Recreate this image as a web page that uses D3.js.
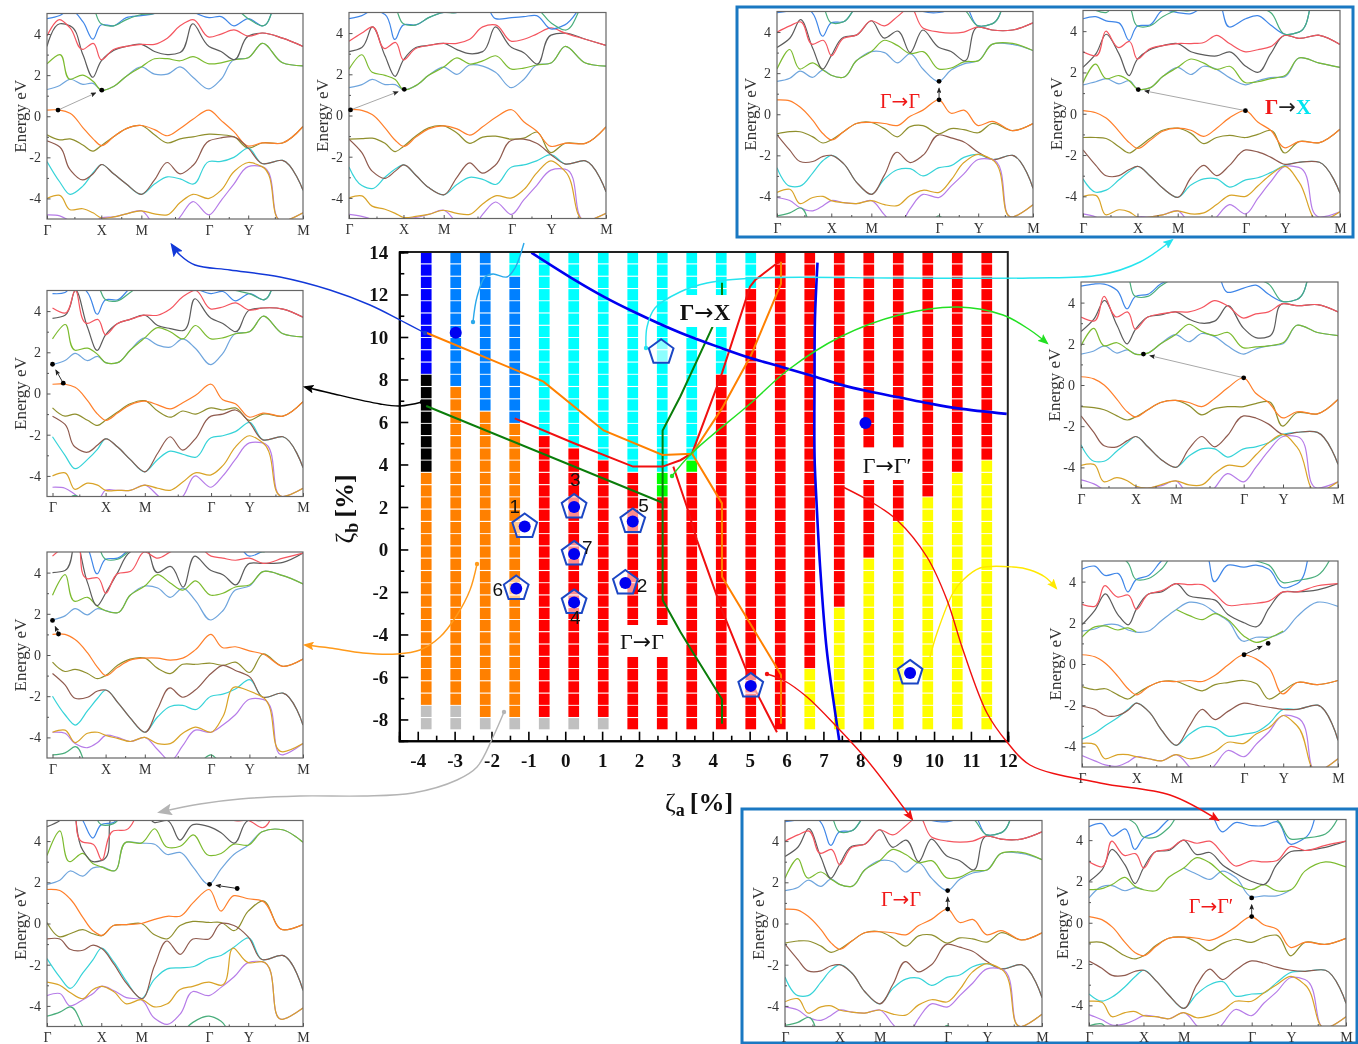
<!DOCTYPE html>
<html>
<head>
<meta charset="utf-8">
<script src="https://cdn.jsdelivr.net/npm/d3@7"></script>
<style>
  html, body { margin: 0; background: #fff; }
  svg { display: block; filter: blur(0.35px); }
  text { font-family: "Liberation Serif", serif; }
</style>
</head>
<body>
<div id="chart"></div>
<script>
// ---- strain map data ----
const zetaA = [-3.77,-2.97,-2.17,-1.37,-0.57,0.23,1.03,1.83,2.63,3.43,4.23,5.03,5.83,6.63,7.43,8.23,9.03,9.83,10.63,11.43];
const zetaB = [-8.2,-7.62,-7.05,-6.47,-5.89,-5.32,-4.74,-4.16,-3.58,-3.01,-2.43,-1.85,-1.28,-0.7,-0.12,0.46,1.03,1.61,2.19,2.76,3.34,3.92,4.49,5.07,5.65,6.22,6.8,7.38,7.96,8.53,9.11,9.69,10.26,10.84,11.42,11.99,12.57,13.15,13.73];
// run lengths from the bottom row up, one list per column
const columnRuns = [
  [["gray",2],["orange",19],["black",8],["blue",10]],
  [["gray",2],["orange",26],["azure",11]],
  [["gray",1],["orange",25],["azure",13]],
  [["gray",1],["orange",24],["azure",12],["cyan",2]],
  [["gray",1],["red",23],["cyan",15]],
  [["gray",1],["red",22],["cyan",16]],
  [["gray",1],["red",21],["cyan",17]],
  [["red",21],["cyan",18]],
  [["red",19],["lime",2],["cyan",18]],
  [["red",21],["lime",1],["cyan",17]],
  [["red",29],["cyan",10]],
  [["red",36],["cyan",3]],
  [["red",39]],
  [["yellow",5],["red",34]],
  [["yellow",10],["red",29]],
  [["yellow",14],["red",25]],
  [["yellow",17],["red",22]],
  [["yellow",19],["red",20]],
  [["yellow",21],["red",18]],
  [["yellow",22],["red",17]]
];
const phaseColors = {gray:"#c0c0c0", orange:"#ff8000", black:"#000000", blue:"#0000ff", azure:"#0080ff", cyan:"#00ffff", red:"#ff0000", lime:"#00ff00", yellow:"#ffff00"};

const orangeUp = [[-3.77,10.2],[-0.59,7.9],[1.04,5.6],[2.64,4.45],[3.44,4.5],[4.25,6.64],[5.04,9.15],[5.85,12.5],[5.85,13.54]];
const orangeDown = [[3.44,4.5],[4.25,2.17],[4.25,-1.28],[5.85,-5.9],[5.85,-8.2]];
const redUp = [[-1.37,6.17],[0.24,5],[1.84,3.9],[2.64,3.9],[3.12,4.2],[3.44,4.53],[4.25,8.3],[5.01,12.37],[5.15,12.68],[5.74,13.47],[5.85,13.54]];
const redDown = [[2.93,3.9],[3.3,2],[3.57,0.44],[4.25,-2.85],[5.03,-6.2],[5.74,-8.6]];
const greenLeft = [[-3.77,6.75],[2.64,2.2]];
const greenUp = [[2.64,-2.38],[2.64,5.6],[3.12,7.2],[3.99,10.46],[4.25,11.97],[4.25,12.55]];
const greenDown = [[2.64,-2.38],[3.12,-3.87],[3.48,-4.9],[4.25,-7.05],[4.25,-8.2]];
const blueCross = [[-0.92,13.97],[0.24,12.7],[1.04,11.9],[1.84,11.2],[3.12,10.2],[4.25,9.47],[5.04,9],[5.85,8.6],[6.78,8.13],[7.44,7.77],[8.25,7.43],[9.05,7.16],[9.85,6.88],[10.65,6.64],[11.97,6.38]];
const blueDown = [[6.84,13.5],[6.77,10.8],[6.76,8.1],[6.76,4.37],[6.82,2],[6.91,-0.8],[7.09,-4.73],[7.36,-8.17],[7.43,-9]];

const pentagons = [[-1.1,1.08],[0.24,2],[1.83,1.32],[0.24,-0.21],[1.63,-1.58],[-1.33,-1.84],[0.24,-2.49],[2.6,9.28],[5.03,-6.42],[9.35,-5.81]];
const filledDots = [[-1.1,1.08],[0.24,2],[1.83,1.32],[0.24,-0.21],[1.63,-1.58],[-1.33,-1.84],[0.24,-2.49],[5.03,-6.42],[9.35,-5.81],[-2.97,10.2],[8.14,5.95]];
const pointNames = ["1","3","5","7","2","6","4"];
const pointNamePos = [[-1.37,1.7],[0.27,3],[2.12,1.75],[0.6,-0.2],[2.08,-2.0],[-1.83,-2.2],[0.27,-3.5]];

// ---- band structure data, energies on the common k grid ----
const kGrid = [0,.05,.09,.14,.18,.212,.26,.31,.3685,.42,.47,.52,.57,.633,.68,.73,.786,.84,.92,1];
const kSym = [0,.212,.3685,.633,.786,1];
const kSymNames = ["Γ","X","M","Γ","Y","M"];
const kMinor = [.107,.29,.5,.71,.89];
const energyTicks = [-4,-2,0,2,4];
const energyMinor = [-3,-1,1,3];
const bandColors = ["#8f8f2d","#ff7f2a","#36d3d8","#8f5a4e","#b67ce8","#d9a327","#6fa5dd","#7cbb2f","#5c5c5c","#f4555f","#3f86e8","#4aae7c","#4aae7c"];

const bandsA = [
[-.9,-1.15,-1.1,-1.4,-1.7,-1.43,-1,-.6,-.45,-.9,-1.3,-1.1,-1,-.87,-.9,-1,-1.55,-1.3,-1.3,-.5],
[.3,.3,.15,-.55,-1.1,-1.43,-1,-.6,-.45,-.65,-.95,-.6,-.15,.3,-.2,-.75,-1.45,-1.3,-1.3,-.5],
[-2.2,-3.2,-3.8,-3.4,-2.75,-2.35,-2.8,-3.3,-3.8,-3.3,-2.95,-3.05,-3.3,-2.2,-2.2,-2,-1.55,-2.3,-2.15,-3.6],
[-1.2,-1.5,-2.6,-3.1,-2.8,-2.35,-2.8,-3.3,-3.8,-3.1,-2.25,-2.8,-2.4,-1.2,-1.05,-1,-1.55,-2.3,-2.15,-3.6],
[-4.8,-4.85,-5.1,-5.4,-5.2,-4.95,-4.9,-4.75,-4.6,-5.3,-5.6,-4.9,-4.15,-4.8,-4.1,-3.3,-2.45,-2.45,-5.1,-4.7],
[-4,-3.85,-4.55,-4.5,-4.7,-4.95,-4.9,-4.75,-4.6,-4.75,-4.8,-4.2,-3.8,-4,-3.6,-2.7,-2.25,-2.45,-5.1,-4.7],
[1.3,1.5,1.8,1.55,1.6,1.27,1.45,1.95,2.4,2.05,2.05,2.4,1.9,1.33,1.8,2.75,2.85,3.55,2.6,2.45],
[2.55,3,1.8,2,1.7,1.27,1.45,1.95,2.4,2.8,2.8,2.7,2.9,2.55,2.6,2.75,2.85,3.55,2.6,2.45],
[3.4,4.5,4.4,3,1.9,2.7,3.2,3.4,3.5,3.15,3,3.1,4.5,3.4,3.15,2.75,3.9,4.05,3.8,3.4],
[3.9,4.7,4.3,3.25,3.55,2.75,3.25,3.4,3.5,3.5,3.8,4.4,4.7,3.85,4,4.2,3.9,4.05,3.8,3.4],
[4.75,4.9,5.2,4.6,3.75,4.45,4.4,4.8,4.9,5,5.4,5.6,5.1,4.8,4.85,4.4,4.75,4.4,6,6],
[5.5,5.6,5.8,5.8,5.3,4.5,4.4,4.7,4.95,5,5.5,5.8,6,5.8,5.5,5.3,4.75,4.4,6,6]];

const bandsB = [
[-1.15,-1.12,-1.1,-1.35,-1.75,-1.5,-1,-.6,-.5,-.85,-1.35,-1.05,-1,-1.15,-1.1,-.8,-1.8,-1.35,-1.35,-.55],
[.3,.25,.05,-.6,-1.2,-1.5,-1.05,-.65,-.5,-.65,-.95,-.55,-.1,.28,-.3,-.75,-1.5,-1.35,-1.35,-.55],
[-2.5,-3.4,-3.55,-3,-2.6,-2.4,-2.9,-3.5,-3.85,-3.35,-3,-3.1,-3.35,-2.5,-2.4,-2.2,-1.9,-2.35,-2.2,-3.7],
[-1.15,-1.8,-2.7,-3.05,-2.7,-2.4,-2.9,-3.5,-3.85,-3,-2.3,-2.8,-2.4,-1.2,-1.15,-1.35,-1.9,-2.35,-2.2,-3.7],
[-4.8,-4.9,-5.05,-5.4,-5.2,-5,-4.95,-4.8,-4.6,-5.2,-5.6,-4.8,-4.2,-4.8,-4.1,-3.4,-2.65,-2.6,-5.1,-4.75],
[-4,-3.9,-4.4,-4.55,-4.75,-4.95,-4.9,-4.8,-4.6,-4.75,-4.8,-4.3,-3.9,-4,-3.6,-2.8,-2.2,-2.7,-5.1,-4.75],
[1.35,1.5,1.75,1.5,1.5,1.25,1.45,1.95,2.35,2,2.45,2.4,2.1,1.35,1.75,2.45,2.55,3.35,2.55,2.4],
[2.25,2.95,2.1,1.95,1.75,1.25,1.45,1.95,2.35,2.8,2.5,2.65,2.9,2.25,2.3,2.45,2.55,3.35,2.55,2.4],
[3.1,3.3,4.3,2.9,1.9,2.7,3.3,3.4,3.5,3.2,3,3.1,4.3,3.3,3.05,2.5,3.9,4,3.7,3.4],
[3.6,4,4.3,3.25,3.55,2.7,3.25,3.4,3.5,3.5,3.7,4.3,4.4,3.6,3.7,3.95,4.25,4,3.7,3.4],
[4.7,4.85,5.1,4.9,3.7,4.4,4.4,4.75,5,5,5.2,5.6,4.7,4.75,4.8,4.85,4.2,4.4,5.5,6],
[5.6,5.7,5.8,5.6,5.2,4.45,4.4,4.75,5,5,5.4,5.6,5.6,5.5,5.4,5.2,4.5,4.15,5.5,6]];

const bandsC = [
[-.95,-.85,-.85,-1.1,-1.4,-1.25,-.85,-.45,-.4,-.7,-1.1,-.6,-.55,-.95,-.7,-.75,-.9,-.45,-.8,-.45],
[.7,.65,.35,-.3,-.95,-1.25,-.85,-.45,-.4,-.45,-.55,-.1,.2,.7,.05,.2,-.55,-.35,-.8,-.45],
[-2.6,-3.5,-3.5,-2.85,-2.25,-2,-2.4,-3.3,-3.9,-3.15,-2.7,-2.65,-3,-2.6,-2.5,-2.1,-1.95,-2.2,-2,-3.6],
[-1,-1.75,-2.3,-2.3,-2.05,-2,-2.4,-3.3,-3.9,-2.95,-1.85,-2.35,-2,-1,-1.15,-1.35,-1.85,-2.2,-2,-3.6],
[-4.05,-4.2,-4.55,-4.7,-4.45,-4.2,-4.3,-4.35,-4.2,-4.9,-5.5,-4.6,-3.9,-4.05,-3.5,-2.9,-2.2,-2.2,-5,-4.4],
[-3.8,-3.65,-4.35,-4.05,-4,-4.2,-4.3,-4.35,-4.2,-4.4,-4.45,-3.95,-3.7,-3.8,-3.2,-2.35,-1.95,-2.2,-5,-4.4],
[1.6,1.75,2.1,1.8,2.15,1.9,1.8,2.6,3.05,3,2.5,2.95,2.2,1.6,2.15,2.45,2.6,3.4,3.4,3.1],
[2.2,3.15,2.2,2.5,2.15,1.9,1.8,2.6,3.05,3.6,3.35,2.95,3.05,2.2,2.25,2.55,2.6,3.4,3.45,3.1],
[3.25,3.7,4.6,3.2,2.2,2.85,3.75,3.85,4.55,3.7,4.05,3,4.1,3.25,3.05,2.6,4.25,4.1,4.1,4.45],
[4,4.3,4.5,3.4,3.6,2.85,3.7,3.85,4.55,4.3,4.75,5.2,4.2,4,3.95,4,4.25,4.1,4.1,4.45],
[4.95,5.05,5.4,4.9,3.8,4.45,4.5,5.2,5.5,5.5,5.5,5.3,5,4.95,5.1,5.3,4.3,4.4,6,6],
[5.5,5.6,5.8,5.6,5.2,4.45,4.5,5.2,5.5,5.6,5.8,5.8,5.6,5.4,5.3,5.1,4.3,4.4,6,6],
[-4.95,-4.8,-4.55,-5.6,-6,-6,-6,-6,-6,-6,-6,-6,-5.8,-4.95,-5.5,-6,-6,-6,-6,-6]];

const bandsD = [
[-1.15,-1.15,-1.2,-1.6,-1.9,-1.65,-1.2,-.8,-.7,-.95,-1.45,-1.15,-1.05,-1.15,-1,-.8,-1.9,-1.35,-1.4,-.75],
[.15,.05,-.2,-.85,-1.4,-1.68,-1.3,-.85,-.7,-.8,-1.1,-.7,-.2,.15,-.4,-.8,-1.65,-1.35,-1.4,-.75],
[-3.15,-3.8,-3.7,-3.2,-2.8,-2.55,-3,-3.6,-4.05,-3.45,-3.15,-3.15,-3.55,-3.2,-3.1,-2.85,-2.5,-2.35,-2.35,-3.85],
[-1.75,-2.5,-3,-3,-2.7,-2.55,-3,-3.6,-4.05,-3.1,-2.5,-3,-2.5,-1.75,-1.85,-2.1,-2.45,-2.35,-2.35,-3.85],
[-4.85,-5,-5.3,-5.4,-5.2,-5,-5,-4.9,-4.7,-5.4,-5.7,-5,-4.4,-4.85,-4.1,-3.3,-2.55,-2.6,-5,-4.75],
[-4,-3.95,-4.9,-4.65,-4.75,-5,-5,-4.9,-4.7,-4.85,-4.8,-4.4,-3.95,-4,-3.5,-2.95,-2.55,-3.3,-5.2,-4.75],
[1.4,1.55,1.7,1.45,1.6,1.2,1.25,1.8,2.25,1.9,2.3,2.15,1.75,1.4,1.6,1.75,1.8,2.7,2.45,2.25],
[1.5,2.4,1.7,1.85,1.6,1.2,1.25,1.8,2.25,2.65,2.45,2.15,2.3,1.5,1.55,1.7,1.85,2.7,2.45,2.25],
[2.25,2.9,3.85,2.9,1.85,2.65,3.1,3.3,3.4,3,2.85,2.8,3,2.3,2,2.9,3.8,3.65,3.8,3.35],
[3,2.8,4,3.2,3.5,2.65,3.15,3.3,3.4,3.4,3.45,3.8,3.4,3,3.1,3.25,3.8,3.65,3.8,3.35],
[4.6,4.7,4.5,4.4,3.55,4.25,4.3,5,4.9,4.85,5.2,5.5,4.2,4.6,4.75,4.3,3.85,3.95,6,6],
[5.4,5,4.9,5.6,5.2,4.25,4.25,4.7,5,5,5.5,5.7,5.2,5.5,5.2,4.9,3.85,3.95,6,6]];

const bandsE = [
[-.7,-1.1,-1,-1.3,-1.55,-1.3,-.9,-.5,-.35,-.85,-1.15,-.85,-1,-.7,-.8,-.7,-1.3,-1,-1.1,-.4],
[.45,.45,.3,-.35,-1,-1.3,-.95,-.55,-.37,-.55,-.75,-.45,-.1,.45,-.3,-.5,-1.15,-.95,-1.1,-.4],
[-2.1,-3,-3.65,-3.2,-2.7,-2.2,-2.6,-3.2,-3.8,-3.2,-2.8,-2.95,-3.1,-2.15,-2.05,-1.85,-1.4,-2.25,-2.1,-3.6],
[-1.1,-1.5,-2.6,-2.85,-2.5,-2.2,-2.6,-3.2,-3.8,-2.9,-2.1,-2.75,-2.2,-1.1,-1,-.8,-1.4,-2.25,-2.1,-3.6],
[-4.55,-4.6,-4.9,-5.3,-5.2,-4.7,-4.7,-4.7,-4.45,-4.95,-5.5,-5,-4,-4.55,-4,-3.2,-2.4,-2.4,-5,-4.6],
[-4,-3.85,-4.65,-4.35,-4.45,-4.7,-4.7,-4.7,-4.45,-4.6,-4.7,-4.3,-3.85,-3.95,-3.5,-2.6,-2.05,-2.4,-5,-4.6],
[1.4,1.6,1.95,1.6,1.8,1.5,1.5,2.1,2.7,2.35,2.25,2.65,2.2,1.4,1.95,2.9,3,3.75,2.9,2.75],
[2.65,3.35,2.1,2.2,1.9,1.5,1.5,2.1,2.7,3.2,3,2.65,3.3,2.65,2.7,2.9,3,3.75,2.9,2.75],
[3.65,3.8,5,3.2,2.1,2.85,3.4,3.6,3.8,3.3,3.15,3.05,4.6,3.65,3.4,3,4.05,4.15,4.1,3.7],
[4.15,3.9,5,3.4,3.6,2.85,3.4,3.6,3.8,3.8,4.1,4.7,5,4.1,4.2,4.4,4.05,4.15,4.1,3.7],
[4.85,4.9,5.4,4.9,3.85,4.55,4.55,5.1,5.4,5.5,5.4,5.3,5.1,4.85,4.95,4.5,4.85,4.55,6,6],
[5.4,5.6,5.8,5.4,5.2,4.55,4.5,4.9,5.4,5.5,5.6,5.7,5.5,5.3,5.2,5,4.85,4.55,6,6],
[-6,-5.2,-4.95,-6,-6,-6,-6,-6,-6,-6,-6,-6,-6,-6,-6,-6,-6,-6,-6,-6]];

const bandsF = [
[-.35,-.8,-.7,-.9,-1.15,-1,-.5,-.2,-.15,-.65,-.9,-.45,-.45,-.4,-.5,-.35,-.85,.05,-.55,-.2],
[1,1,.75,.1,-.6,-1,-.6,-.25,-.15,-.15,-.25,-.15,.25,1,.35,.4,.2,.05,-.55,-.2],
[-2,-2.9,-3.4,-2.7,-2.1,-1.7,-2.3,-3.05,-3.75,-3,-2.5,-2.45,-2.65,-2,-1.9,-1.65,-1.2,-2.05,-1.85,-3.4],
[-.9,-1.45,-2.1,-2.05,-1.75,-1.7,-2.3,-3.05,-3.75,-2.6,-1.6,-2.05,-1.7,-.9,-.5,-.75,-1.05,-2.05,-1.85,-3.4],
[-3.75,-3.8,-4.3,-4.5,-4.25,-3.9,-4,-4.2,-4,-4.6,-5.15,-4.4,-3.65,-3.75,-3.4,-2.9,-2.15,-2.15,-4.85,-4.3],
[-3.75,-3.65,-4.25,-3.8,-3.75,-3.9,-4.05,-4.2,-4,-4.3,-4.3,-3.8,-3.5,-3.75,-3,-1.55,-1.75,-2.05,-4.7,-4.3],
[1.7,1.9,2.25,1.95,2.25,2.15,2.05,2.9,3.35,3.25,2.8,3.25,2.65,1.7,2.15,3.15,3.35,4.05,3.85,3.45],
[2.9,3.9,2.6,2.8,2.35,2.15,2.05,2.9,3.35,3.9,3.5,3.15,3.6,2.9,3,3.3,3.4,4.05,3.85,3.45],
[4,4.1,5.6,3.5,2.4,3,4,5,5.2,4,4.3,3.3,4.8,4.1,3.9,3.4,4.45,4.45,4.5,4.95],
[4.8,5.3,5.6,3.7,3.75,3,3.95,4.05,5,4.7,5,5.3,5.4,4.8,4.7,4.6,4.7,4.45,4.7,4.95],
[6,6,6,5.2,3.95,4.65,4.7,5.2,6,6,6,6,6,6,6,5.6,4.8,5.05,6,6],
[6,6,6,6,5.4,4.65,4.65,5.1,6,6,6,6,6,6,6,6,5.2,5,6,6],
[-4.85,-4.75,-4.45,-5.5,-6,-6,-6,-6,-6,-6,-6,-6,-5.5,-4.85,-5.4,-6,-6,-6,-6,-6]];

const bandsG = [
[.05,-.65,-.5,-.3,-.5,-.6,-.1,-.05,0,-.55,-.75,-.1,.1,.05,.05,-.35,.6,1.1,-.3,-.05],
[1.65,1.6,1.2,.3,-.35,-.58,-.1,-.05,0,.2,.35,.35,1,1.65,.6,1.35,1.2,1.1,-.3,-.05],
[-1.7,-2.6,-3.15,-2.4,-1.75,-1.2,-1.85,-2.8,-3.65,-2.7,-2.2,-2.15,-2.1,-1.7,-1.55,-1.15,-.7,-1.75,-1.55,-3.25],
[-.75,-.75,-1.25,-1.3,-1.05,-1.2,-1.95,-2.9,-3.65,-2.05,-.85,-1.5,-.75,-.75,0,-.1,-.65,-1.75,-1.55,-3.25],
[-3.5,-3.4,-4,-3.7,-3.4,-3.05,-3.25,-3.6,-3.7,-4.6,-4.9,-4.4,-3.3,-3.5,-3.1,-2.6,-1.9,-1.85,-4.65,-4.1],
[-2.85,-3,-3.35,-3.65,-3.2,-3.05,-3.3,-3.9,-3.7,-4.05,-3.9,-3.2,-3.05,-2.85,-3,-1.2,-1.9,-1.85,-4.65,-4.1],
[1.9,2.1,2.55,2.3,2.7,2.75,2.55,3.95,3.9,3.85,3.35,3.45,2.75,1.9,2.65,3.35,3.8,4.45,4.55,3.95],
[3.3,4.5,3,3.4,2.9,2.75,2.55,3.95,3.9,4.6,3.7,3.75,4.3,3.3,3.4,3.85,3.8,4.45,4.55,3.95],
[4.7,5,5.6,3.55,3,3.05,5.4,6,6,4.9,5,4.05,4.8,4.7,4.4,3.9,5,5,5.5,6],
[5.6,5.8,6,3.95,3.85,3.1,4.5,4.55,5.6,6,6,6,6,6,5.6,5,5,4.65,6,6],
[6,6,6,5,4.15,4.8,4.9,6,6,6,6,6,6,6,6,6,6,6,6,6],
[6,6,6,6,5.4,4.8,4.85,5.5,6,6,6,6,6,6,6,6,6,6,6,6],
[-4.5,-4.3,-4.05,-5,-6,-6,-6,-6,-6,-6,-6,-5.4,-4.8,-4.5,-4.75,-5.6,-6,-6,-6,-6]];

const bandsH = [
[-1.05,-1.1,-1.2,-1.5,-1.7,-1.55,-1.2,-.85,-.75,-1,-1.45,-1.15,-1.05,-1.05,-.9,-.8,-2,-1.35,-1.4,-.7],
[.4,.3,0,-.7,-1.3,-1.55,-1.2,-.85,-.75,-.85,-1.05,-.65,-.15,.35,-.4,-.85,-1.6,-1.3,-1.4,-.7],
[-2.9,-3.7,-3.7,-3.2,-2.8,-2.5,-3,-3.6,-4,-3.45,-3.1,-3.1,-3.5,-3.1,-3,-2.8,-2.4,-2.3,-2.3,-3.85],
[-1.5,-2.3,-2.95,-3,-2.7,-2.5,-3,-3.6,-4,-3.1,-2.5,-3,-2.45,-1.5,-1.6,-1.9,-2.4,-2.3,-2.3,-3.85],
[-4.6,-4.8,-5.1,-5.4,-5.2,-5,-5,-4.9,-4.65,-5.4,-5.7,-5,-4.3,-4.7,-4,-3.2,-2.5,-2.5,-5,-4.7],
[-3.9,-3.85,-4.7,-4.5,-4.65,-4.9,-5,-4.85,-4.65,-4.85,-4.85,-4.3,-3.9,-3.95,-3.4,-2.8,-2.4,-3,-5.2,-4.7],
[1.5,1.65,1.9,1.55,1.7,1.5,1.55,2,2.45,2.1,2.5,2.35,1.9,1.5,1.75,1.9,2,2.9,2.55,2.4],
[1.9,2.75,1.9,2.05,1.75,1.5,1.55,2,2.45,2.95,2.6,2.4,2.55,1.8,1.85,1.9,2.05,2.9,2.55,2.4],
[2.6,3.2,4.1,2.9,2,2.7,3.3,3.4,3.55,3.2,3,3.1,3.85,2.75,2.3,2.35,3.95,3.85,3.9,3.55],
[3.3,3.1,4.3,3.3,3.55,2.7,3.3,3.45,3.55,3.55,3.75,4.1,3.85,3.25,3.45,3.55,3.95,3.85,3.9,3.55],
[4.8,4.9,4.9,4.6,3.7,4.3,4.4,4.9,5.2,5.2,5.4,5.6,4.5,4.7,4.85,4.4,4.05,4.15,6,6],
[5.5,5.2,5.2,5.7,5.3,4.3,4.3,4.8,5.2,5.2,5.5,5.7,5.3,5.5,5.2,4.9,4.05,4.15,6,6]];

const bandsI = [
[-1.1,-1.25,-1.2,-1.5,-1.7,-1.45,-1.1,-.85,-.85,-1.1,-1.3,-1,-.9,-.8,-.95,-1.7,-1.3,-.9,-1,-.8],
[.45,.35,.05,-.6,-1.2,-1.5,-1.1,-.85,-.85,-.8,-.85,-.55,-.05,.45,.25,-.2,-1.45,-.9,-1,-.8],
[-3.65,-3.35,-3,-2.6,-2.2,-1.9,-2.3,-3.2,-3.95,-3.4,-3.05,-3.1,-3.5,-3.4,-3.3,-2.9,-2.2,-2.2,-2,-3.7],
[-2.05,-2.2,-2.5,-2.5,-2.25,-1.9,-2.3,-3.2,-3.95,-3,-2.2,-2.7,-2.3,-1.9,-2,-2.1,-2.2,-2.2,-2,-3.7],
[-4.45,-4.7,-4.9,-4.95,-4.75,-4.5,-4.6,-4.7,-4.4,-5,-5.6,-4.9,-4.2,-4.5,-3.9,-3.3,-2.5,-2.6,-5.2,-4.6],
[-3.85,-3.9,-4.6,-4.4,-4.4,-4.5,-4.6,-4.7,-4.4,-4.6,-4.5,-4.25,-3.8,-3.85,-3.4,-3.1,-2.5,-3,-5.2,-4.6],
[1.6,1.7,1.9,1.9,1.65,1.55,1.6,2.1,2.65,3,2.9,2.5,2.1,1.1,1.3,1.3,1.55,2.3,3,2.8],
[1.3,1.8,1.85,1.65,1.75,1.55,null,null,2.65,2.35,2.15,2.45,2.15,1.35,1.05,1.25,1.6,null,null,null],
[1.9,2.6,3.4,2.4,1.9,2.65,3.4,3.5,3.9,3.3,3.2,3.1,2.4,2,1.8,2.7,3.5,3.5,3.6,3.9],
[2.9,2.8,3.8,3.25,3.35,2.65,3.4,3.55,3.9,3.85,3.85,3.4,2.85,2.9,2.95,3.05,3.5,3.5,3.8,3.9],
[4.6,4.75,4.3,4.4,3.5,4.1,4.3,5,5.5,5.5,5.6,4,4.8,4.7,4.8,4.6,3.7,3.9,6,6],
[5.5,5.4,5.5,5.3,4.9,4.1,4.15,4.6,5.5,5.7,5.8,5.5,5.2,5.2,5,4.8,3.95,4.05,4.3,6]];

const bandsK = [
[-.95,-.95,-1.2,-1.6,-1.75,-1.6,-1.1,-.75,-.7,-.95,-1.35,-1,-.8,-.95,-.7,-.6,-1.6,-.95,-1.05,-.75],
[.3,.15,-.2,-.95,-1.45,-1.6,-1.15,-.75,-.7,-.75,-.85,-.6,-.2,.3,-.1,-.3,-1.2,-.95,-1.05,-.75],
[-3.45,-3.8,-3.6,-3.1,-2.6,-2.3,-2.8,-3.5,-4.15,-3.45,-3,-2.85,-3.55,-3.45,-3.4,-2.9,-2.4,-2.35,-2.3,-3.9],
[-1.85,-2.2,-2.55,-2.55,-2.35,-2.3,-2.8,-3.5,-4.15,-3,-2.25,-2.75,-2.3,-1.85,-1.95,-2.15,-2.3,-2.35,-2.3,-3.9],
[-4.45,-4.7,-4.95,-4.9,-4.7,-4.5,-4.55,-4.65,-4.35,-5,-5.6,-4.9,-4.2,-4.5,-3.9,-3.35,-2.65,-2.75,-5.1,-4.55],
[-3.8,-3.85,-4.55,-4.35,-4.3,-4.5,-4.55,-4.65,-4.35,-4.6,-4.5,-4.25,-3.8,-3.8,-3.4,-3,-2.6,-3,-5.1,-4.55],
[1.2,1.75,1.8,1.55,1.7,1.6,null,null,2.65,2.35,2.1,2.5,2.2,1.25,1.3,1.3,1.6,null,null,null],
[1.6,1.65,1.85,2.2,1.75,1.6,1.55,2.2,2.65,3.15,2.9,2.35,1.9,1.6,1.85,1.55,1.6,2.5,2.95,2.7],
[2,2.55,3.55,2.8,1.9,2.65,3.45,3.5,4,3.3,3.4,2.8,2.4,2,1.85,2.8,3.45,3.5,3.65,3.95],
[2.95,2.7,3.95,3.25,3.35,2.65,3.45,3.55,4,3.85,3.95,3.35,2.75,3,2.95,3,3.7,3.5,3.75,3.95],
[4.65,4.8,4.2,4.55,3.55,4.1,4.4,5,5.4,5.5,5.3,4.4,4.85,4.7,4.7,4.9,3.8,4.1,6,6],
[5.3,5.5,5.4,5.1,4.8,4.15,4.15,4.6,5.5,5.5,5.6,5.6,5.2,5.2,5.2,5,4.05,4.1,4.3,6],
[-5,-4.9,-5.6,-6,-6,-6,-6,-6,-6,-6,-6,-6,-6,-6,-6,-6,-6,-6,-6,-6]];

// marked gap transition of each panel: [k, E] start and end
const gapA = [[.043,.3],[.214,1.27]];
const gapB = [[.006,.27],[.215,1.27]];
const gapC = [[.633,.7],[.633,1.6]];
const gapD = [[.632,.15],[.215,1.17]];
const gapE = [[.043,.5],[0,1.42]];
const gapF = [[.024,1.02],[0,1.68]];
const gapG = [[.743,1.7],[.635,1.9]];
const gapH = [[.633,.35],[.243,1.5]];
const gapI = [[.633,.45],[.727,1]];
const gapK = [[.633,.3],[.633,1.2]];

// ---- layout ----
let panels = [
  {bands: bandsA, gap: gapA, x0: 47, x1: 303, y0: 13.5, y1: 219},
  {bands: bandsB, gap: gapB, x0: 349, x1: 606, y0: 12.5, y1: 218.5},
  {bands: bandsC, gap: gapC, x0: 777, x1: 1033, y0: 11.5, y1: 217},
  {bands: bandsD, gap: gapD, x0: 1083, x1: 1340, y0: 10.5, y1: 217},
  {bands: bandsE, gap: gapE, x0: 47, x1: 303, y0: 290.5, y1: 496.5, inset: 5.5},
  {bands: bandsF, gap: gapF, x0: 47, x1: 303, y0: 552, y1: 758, inset: 5.5},
  {bands: bandsG, gap: gapG, x0: 47, x1: 303, y0: 820.5, y1: 1026.5},
  {bands: bandsH, gap: gapH, x0: 1081, x1: 1338, y0: 282, y1: 488},
  {bands: bandsI, gap: gapI, x0: 1082, x1: 1338, y0: 561, y1: 767},
  {bands: bandsC, gap: gapC, x0: 785, x1: 1042, y0: 820.5, y1: 1026.5},
  {bands: bandsK, gap: gapK, x0: 1089, x1: 1346, y0: 819.5, y1: 1026}
];

let svg = d3.select("#chart").append("svg")
  .attr("width", 1358)
  .attr("height", 1044);
let defs = svg.append("defs");

function arrowMarker(id, color, size) {
  defs.append("marker")
    .attr("id", id)
    .attr("markerUnits", "userSpaceOnUse")
    .attr("viewBox", "0 0 10 8")
    .attr("refX", 8)
    .attr("refY", 4)
    .attr("markerWidth", size)
    .attr("markerHeight", size * 0.8)
    .attr("orient", "auto")
    .append("path")
    .attr("d", "M0,0L10,4L0,8L2,4Z")
    .attr("fill", color);
}

// ---- blue boxes ----
const boxes = [[737, 7, 616, 230], [742, 809, 615, 234]];
svg.selectAll(".box")
  .data(boxes)
  .enter().append("rect")
  .attr("x", d => d[0])
  .attr("y", d => d[1])
  .attr("width", d => d[2])
  .attr("height", d => d[3])
  .attr("fill", "none")
  .attr("stroke", "#1a78c2")
  .attr("stroke-width", 3);

// ---- band structure panels ----
arrowMarker("gapHead", "#222", 6);
panels.forEach(function (p, n) {
  let g = svg.append("g");
  let x = d3.scaleLinear().domain([0, 1]).range([p.x0 + (p.inset || 0), p.x1]);
  let y = d3.scaleLinear().domain([-5, 5]).range([p.y1, p.y0]);

  defs.append("clipPath").attr("id", "clip" + n)
    .append("rect")
    .attr("x", p.x0).attr("y", p.y0)
    .attr("width", p.x1 - p.x0).attr("height", p.y1 - p.y0);

  let line = d3.line()
    .defined(d => d !== null)
    .x((d, i) => x(kGrid[i]))
    .y(d => y(d))
    .curve(d3.curveCatmullRom.alpha(1));

  g.append("g").attr("clip-path", "url(#clip" + n + ")")
    .selectAll("path")
    .data(p.bands)
    .enter().append("path")
    .attr("d", line)
    .attr("fill", "none")
    .attr("stroke", (d, i) => bandColors[i])
    .attr("stroke-width", 1.2);

  g.append("rect")
    .attr("x", p.x0).attr("y", p.y0)
    .attr("width", p.x1 - p.x0).attr("height", p.y1 - p.y0)
    .attr("fill", "none")
    .attr("stroke", "#666")
    .attr("stroke-width", 1.2);

  let bottom = g.append("g")
    .attr("transform", "translate(0," + p.y1 + ")")
    .call(d3.axisBottom(x).tickValues(kSym).tickSize(-3.5).tickPadding(6)
      .tickFormat((d, i) => kSymNames[i]));
  let bottomMinor = g.append("g")
    .attr("transform", "translate(0," + p.y1 + ")")
    .call(d3.axisBottom(x).tickValues(kMinor).tickSize(-2).tickFormat(""));
  let left = g.append("g")
    .attr("transform", "translate(" + p.x0 + ",0)")
    .call(d3.axisLeft(y).tickValues(energyTicks).tickSize(-3.5).tickPadding(6)
      .tickFormat(d => String(d)));
  let leftMinor = g.append("g")
    .attr("transform", "translate(" + p.x0 + ",0)")
    .call(d3.axisLeft(y).tickValues(energyMinor).tickSize(-2).tickFormat(""));
  [bottom, bottomMinor, left, leftMinor].forEach(function (a) {
    a.select(".domain").remove();
    a.selectAll("line").attr("stroke", "#555");
    a.selectAll("text")
      .attr("fill", "#333")
      .style("font-size", "14px")
      .style("font-family", "'Liberation Serif', serif");
  });

  g.append("text")
    .attr("transform", "translate(" + (p.x0 - 21) + "," + ((p.y0 + p.y1) / 2) + ") rotate(-90)")
    .attr("text-anchor", "middle")
    .attr("fill", "#333")
    .style("font-size", "17px")
    .text("Energy eV");

  // transition arrow and its two end dots
  let from = [x(p.gap[0][0]), y(p.gap[0][1])];
  let to = [x(p.gap[1][0]), y(p.gap[1][1])];
  let len = Math.hypot(to[0] - from[0], to[1] - from[1]);
  let stop = Math.max(len - 7, 1) / len;
  g.append("line")
    .attr("x1", from[0]).attr("y1", from[1])
    .attr("x2", from[0] + (to[0] - from[0]) * stop)
    .attr("y2", from[1] + (to[1] - from[1]) * stop)
    .attr("stroke", len > 40 ? "#a8a8a8" : "#333")
    .attr("stroke-width", 1)
    .attr("marker-end", "url(#gapHead)");
  g.selectAll(".gapdot")
    .data([from, to])
    .enter().append("circle")
    .attr("cx", d => d[0])
    .attr("cy", d => d[1])
    .attr("r", 2.4)
    .attr("fill", "#000");
});

// Γ→ labels, the long arrow comes from DejaVu
function gammaLabel(px, py, parts, size, weight) {
  let t = svg.append("text")
    .attr("x", px)
    .attr("y", py)
    .attr("text-anchor", "middle")
    .style("font-size", size + "px")
    .style("font-weight", weight);
  parts.forEach(function (s) {
    let span = t.append("tspan").attr("fill", s[1]).text(s[0]);
    if (s[0] === "→") {
      span.style("font-family", "'DejaVu Sans', sans-serif").style("font-weight", "normal");
    }
  });
}
const red = "#f01818", ink = "#111";
gammaLabel(900, 108, [["Γ", red], ["→", red], ["Γ", red]], 20, "normal");
gammaLabel(1288, 114, [["Γ", red], ["→", "#222"], ["X", "#00e5f0"]], 21, "bold");
gammaLabel(901, 906, [["Γ", red], ["→", red], ["Γ", red]], 20, "normal");
gammaLabel(1211, 913, [["Γ", red], ["→", red], ["Γ′", red]], 20, "normal");

// ---- central strain map ----
let x = d3.scaleLinear().domain([-4.5, 12]).range([399.3, 1007.8]);
let y = d3.scaleLinear().domain([-9, 14]).range([740.7, 252]);
let cellWidth = 10.7;
let cellHeight = 11.2;

columnRuns.forEach(function (runs, c) {
  let states = [];
  runs.forEach(function (r) {
    for (let i = 0; i < r[1]; i++) states.push(r[0]);
  });
  svg.append("g").selectAll("rect")
    .data(states)
    .enter().append("rect")
    .attr("x", x(zetaA[c]) - cellWidth / 2)
    .attr("y", (d, i) => y(zetaB[i]) - cellHeight / 2)
    .attr("width", cellWidth)
    .attr("height", cellHeight)
    .attr("fill", d => phaseColors[d]);
});

let boundary = d3.line().x(d => x(d[0])).y(d => y(d[1]));
let boundarySmooth = d3.line().x(d => x(d[0])).y(d => y(d[1])).curve(d3.curveCatmullRom.alpha(0.5));
const boundaries = [
  {pts: greenLeft, color: "#0a7d0a", w: 2, gen: boundary},
  {pts: greenUp, color: "#0a7d0a", w: 2, gen: boundary},
  {pts: greenDown, color: "#0a7d0a", w: 2, gen: boundary},
  {pts: redUp, color: "#f01010", w: 2, gen: boundary},
  {pts: redDown, color: "#f01010", w: 2, gen: boundary},
  {pts: orangeUp, color: "#ff8000", w: 2, gen: boundary},
  {pts: orangeDown, color: "#ff8000", w: 2, gen: boundary},
  {pts: blueCross, color: "#0000f0", w: 2.6, gen: boundarySmooth},
  {pts: blueDown, color: "#0000f0", w: 2.6, gen: boundarySmooth}
];
svg.append("g").selectAll("path")
  .data(boundaries)
  .enter().append("path")
  .attr("d", d => d.gen(d.pts))
  .attr("fill", "none")
  .attr("stroke", d => d.color)
  .attr("stroke-width", d => d.w);

// white patches behind the region labels
const labelPatches = [[676, 295, 60, 32], [617, 625, 52, 32], [857, 448, 63, 32]];
svg.selectAll(".patch")
  .data(labelPatches)
  .enter().append("rect")
  .attr("x", d => d[0])
  .attr("y", d => d[1])
  .attr("width", d => d[2])
  .attr("height", d => d[3])
  .attr("fill", "#fff");

// frame and axes
svg.append("path")
  .attr("d", "M" + x(-4.5) + "," + y(14) + "H" + x(12) + "V" + y(-9))
  .attr("fill", "none")
  .attr("stroke", "#222")
  .attr("stroke-width", 2);

const xMajor = d3.range(-4, 13);
const xMinor = d3.range(-3.5, 12, 1);
const yMajor = d3.range(-8, 15, 2);
const yMinor = d3.range(-7, 14, 2);

let axes = [
  svg.append("g").attr("transform", "translate(0," + y(-9) + ")")
    .call(d3.axisBottom(x).tickValues(xMajor).tickSize(-9).tickPadding(13).tickFormat(d => String(d))),
  svg.append("g").attr("transform", "translate(0," + y(-9) + ")")
    .call(d3.axisBottom(x).tickValues(xMinor).tickSize(-5).tickFormat("")),
  svg.append("g").attr("transform", "translate(" + x(-4.5) + ",0)")
    .call(d3.axisLeft(y).tickValues(yMajor).tickSize(-9).tickPadding(11).tickFormat(d => String(d))),
  svg.append("g").attr("transform", "translate(" + x(-4.5) + ",0)")
    .call(d3.axisLeft(y).tickValues(yMinor).tickSize(-5).tickFormat(""))
];
axes.forEach(function (a) {
  a.select(".domain").attr("stroke", "#000").attr("stroke-width", 2);
  a.selectAll("line").attr("stroke", "#000").attr("stroke-width", 1.6);
  a.selectAll("text")
    .attr("fill", "#111")
    .style("font-size", "19px")
    .style("font-weight", "bold")
    .style("font-family", "'Liberation Serif', serif");
});

// axis titles
let xTitle = svg.append("text")
  .attr("x", 699).attr("y", 811)
  .attr("text-anchor", "middle")
  .attr("fill", "#111")
  .style("font-size", "26px");
xTitle.append("tspan").text("ζ");
xTitle.append("tspan").attr("dy", 5).style("font-size", "18px").style("font-weight", "bold").text("a");
xTitle.append("tspan").attr("dy", -5).attr("dx", 5).style("font-weight", "bold").text("[%]");

let yTitle = svg.append("text")
  .attr("transform", "translate(353,509) rotate(-90)")
  .attr("text-anchor", "middle")
  .attr("fill", "#111")
  .style("font-size", "26px");
yTitle.append("tspan").text("ζ");
yTitle.append("tspan").attr("dy", 5).style("font-size", "18px").style("font-weight", "bold").text("b");
yTitle.append("tspan").attr("dy", -5).attr("dx", 5).style("font-weight", "bold").text("[%]");

// region labels
gammaLabel(705, 320, [["Γ", ink], ["→", ink], ["X", ink]], 23, "bold");
gammaLabel(642, 649, [["Γ", ink], ["→", ink], ["Γ", ink]], 22, "normal");
gammaLabel(887, 473, [["Γ", ink], ["→", ink], ["Γ′", ink]], 22, "normal");

// ---- connector arrows to the panels, in page coordinates ----
const connectBlue = [[425,333],[400,320],[370,305],[330,290],[280,277],[230,270],[195,265],[180,255],[172,245]];
const connectBlack = [[422,402],[400,406],[380,404],[330,393],[305,387]];
const connectOrange = [[477,564],[470,590],[457,615],[440,637],[420,650],[397,654],[363,653],[330,648],[305,645]];
const connectGray = [[504,712],[493,737],[477,767],[457,780],[413,793],[363,796],[300,796],[240,799],[200,804],[160,812]];
const connectAzure = [[473,322],[477,297],[485,277],[493,274],[507,277],[515,268],[524,243]];
const connectCyan = [[646,348],[647,327],[655,308],[680,292],[707,283],[755,278],[900,278],[1030,278],[1100,275],[1140,262],[1172,240]];
const connectLime = [[672,476],[692,453],[751,403],[788,370],[840,337],[899,315],[958,307],[1003,315],[1030,330],[1047,343]];
const connectYellow = [[930,657],[937,633],[953,593],[963,580],[980,568],[1013,567],[1030,570],[1045,577],[1056,588]];
const connectRedA = [[767,674],[783,680],[807,697],[837,727],[867,760],[912,819]];
const connectRedB = [[843,487],[873,503],[897,520],[927,557],[947,600],[963,650],[987,713],[1007,742],[1030,765],[1100,783],[1170,795],[1218,820]];

const connectors = [
  {pts: connectGray, color: "#b4b4b4", head: 15, dot: true},
  {pts: connectOrange, color: "#ff9a1a", head: 11, dot: true},
  {pts: connectAzure, color: "#2aa8ea", dot: true},
  {pts: connectCyan, color: "#25e4ee", head: 11, dot: true},
  {pts: connectLime, color: "#22e022", head: 11, dot: true},
  {pts: connectYellow, color: "#ffe800", head: 11, dot: false},
  {pts: connectBlue, color: "#1238d8", head: 14, dot: true},
  {pts: connectBlack, color: "#000", head: 11, dot: true},
  {pts: connectRedA, color: "#f01010", head: 11, dot: true},
  {pts: connectRedB, color: "#f01010", head: 11, dot: false}
];
let page = d3.line().curve(d3.curveCatmullRom.alpha(0.5));
connectors.forEach(function (c, i) {
  let path = svg.append("path")
    .attr("d", page(c.pts))
    .attr("fill", "none")
    .attr("stroke", c.color)
    .attr("stroke-width", 1.4);
  if (c.head) {
    arrowMarker("head" + i, c.color, c.head);
    path.attr("marker-end", "url(#head" + i + ")");
  }
  if (c.dot) {
    svg.append("circle")
      .attr("cx", c.pts[0][0])
      .attr("cy", c.pts[0][1])
      .attr("r", 2.2)
      .attr("fill", c.color);
  }
});

// ---- marked strain points ----
let pentagon = d3.lineRadial()
  .angle((d, i) => i * 2 * Math.PI / 5)
  .radius(13)
  .curve(d3.curveLinearClosed);
svg.selectAll(".pent")
  .data(pentagons)
  .enter().append("path")
  .attr("transform", d => "translate(" + x(d[0]) + "," + y(d[1]) + ")")
  .attr("d", pentagon([0, 1, 2, 3, 4]))
  .attr("fill", "rgba(255,255,255,0.55)")
  .attr("stroke", "#1b46c4")
  .attr("stroke-width", 2);
svg.selectAll(".dot")
  .data(filledDots)
  .enter().append("circle")
  .attr("cx", d => x(d[0]))
  .attr("cy", d => y(d[1]))
  .attr("r", 6)
  .attr("fill", "#0000f0");
svg.selectAll(".pointname")
  .data(pointNames)
  .enter().append("text")
  .attr("x", (d, i) => x(pointNamePos[i][0]))
  .attr("y", (d, i) => y(pointNamePos[i][1]))
  .attr("text-anchor", "middle")
  .attr("fill", "#111")
  .style("font-size", "19px")
  .style("font-family", "'Liberation Sans', sans-serif")
  .text(d => d);
</script>
</body>
</html>
